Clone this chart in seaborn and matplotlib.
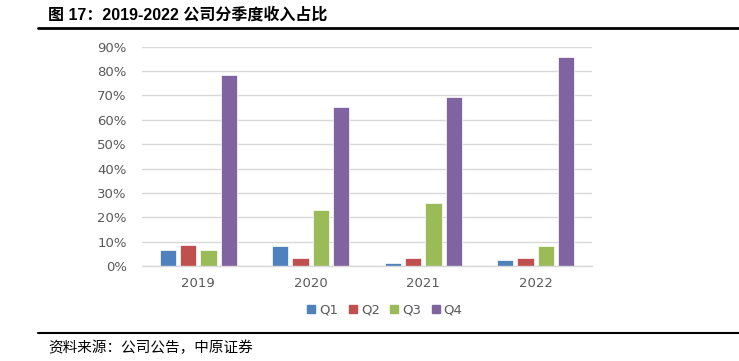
import matplotlib
matplotlib.use("Agg")
import matplotlib.pyplot as plt
import seaborn as sns
import pandas as pd
from matplotlib.ticker import PercentFormatter, MultipleLocator
from matplotlib.lines import Line2D

years = ["2019", "2020", "2021", "2022"]
quarters = ["Q1", "Q2", "Q3", "Q4"]
q1 = [0.066, 0.081, 0.011, 0.026]
q2 = [0.086, 0.033, 0.034, 0.031]
q3 = [0.067, 0.230, 0.260, 0.084]
q4 = [0.782, 0.653, 0.694, 0.856]
colors = ["#4F81BD", "#C0504D", "#9BBB59", "#8064A2"]

title = "图 17：2019-2022 公司分季度收入占比"
source = "资料来源：公司公告，中原证券"

rows = []
for qname, vals in zip(quarters, [q1, q2, q3, q4]):
    for y, v in zip(years, vals):
        rows.append({"year": y, "quarter": qname, "value": v})
df = pd.DataFrame(rows)

sns.set_theme(style="white")
plt.rcParams["font.family"] = ["Noto Sans CJK SC", "DejaVu Sans"]

fig = plt.figure(figsize=(7.39, 3.61), dpi=100)
ax = fig.add_axes([142/739, 1-266/361, 450/739, (266-46.7)/361])

sns.barplot(data=df, x="year", y="value", hue="quarter", order=years,
            hue_order=quarters, palette=colors, width=0.725, gap=0.2,
            saturation=1, ax=ax, legend=False, edgecolor="white", linewidth=0.5)

ax.set_ylim(0, 0.9)
ax.yaxis.set_major_locator(MultipleLocator(0.1))
ax.yaxis.set_major_formatter(PercentFormatter(1.0, decimals=0))
ax.grid(axis="y", color="#D9D9D9", linewidth=1)
ax.set_axisbelow(True)
for s in ["top", "right", "left"]:
    ax.spines[s].set_visible(False)
ax.spines["bottom"].set_color("#D9D9D9")
ax.spines["bottom"].set_linewidth(1)
ax.set_xlabel("")
ax.set_ylabel("")
ax.tick_params(axis="y", length=0, labelsize=9.5, labelcolor="#595959", pad=11)
ax.tick_params(axis="x", length=0, labelsize=9.5, labelcolor="#595959", pad=8)
for lbl in ax.get_yticklabels() + ax.get_xticklabels():
    lbl.set_family(["DejaVu Sans"])

handles = [plt.Rectangle((0, 0), 1, 1, color=c) for c in colors]
fig.legend(handles, quarters, loc="center", bbox_to_anchor=(385/739, 1-310/361),
           ncol=4, frameon=False, handlelength=0.6, handleheight=0.6,
           handletextpad=0.3, columnspacing=0.8, labelcolor="#595959",
           prop={"family": ["DejaVu Sans"], "size": 9.5})

fig.text(48/739, 1-15/361, title, fontsize=11.5, fontweight="bold",
         va="center", ha="left", color="black",
         family=["Liberation Sans", "Noto Sans CJK SC"])
fig.add_artist(Line2D([38/739, 1.0], [1-28/361, 1-28/361], color="black", linewidth=2,
                      transform=fig.transFigure))
fig.add_artist(Line2D([38/739, 1.0], [1-333/361, 1-333/361], color="black", linewidth=1.5,
                      transform=fig.transFigure))
fig.text(48/739, 1-348/361, source, fontsize=10.5, va="center", ha="left", color="black")

fig.savefig("out.png", dpi=100)
